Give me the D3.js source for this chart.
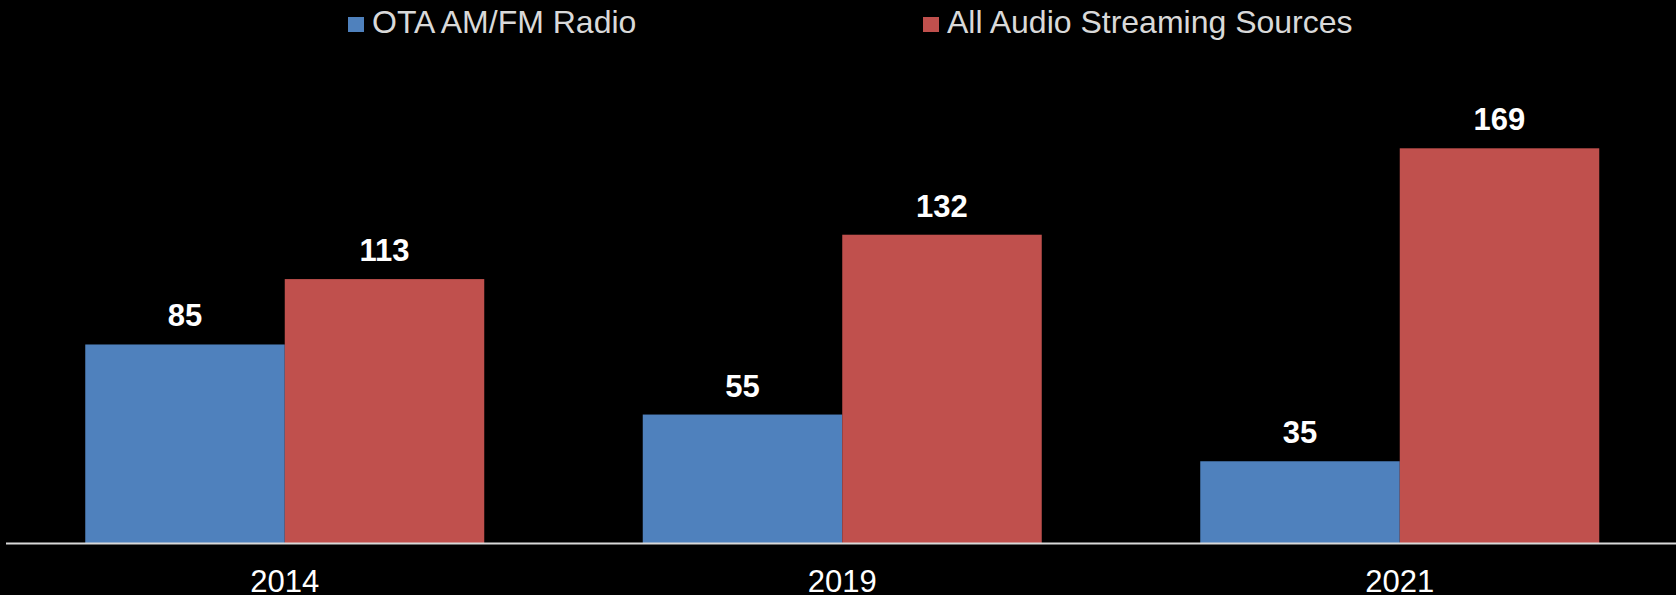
<!DOCTYPE html>
<html>
<head>
<meta charset="utf-8">
<script src="https://cdn.jsdelivr.net/npm/d3@7"></script>
<style>
  html, body { margin: 0; padding: 0; background: #000; }
  svg { display: block; font-family: "Liberation Sans", Arial, sans-serif; }
</style>
</head>
<body>
<svg id="chart"></svg>
<script>
var years = ["2014", "2019", "2021"];
var seriesNames = ["OTA AM/FM Radio", "All Audio Streaming Sources"];
var otaRadio = [85, 55, 35];
var streaming = [113, 132, 169];
var seriesColors = ["#4f81bd", "#c0504d"];

var width = 1676, height = 595;
var baseY = 543;

var svg = d3.select("#chart")
    .attr("width", width)
    .attr("height", height);

svg.append("rect")
    .attr("width", width)
    .attr("height", height)
    .attr("fill", "#000");

var rows = years.map(function(y, i){
    return {year: y, values: [otaRadio[i], streaming[i]]};
});

var x0 = d3.scaleBand()
    .domain(years)
    .range([6, 6 + 557.5 * 3])
    .paddingInner(0.2843)
    .paddingOuter(0.14215);

var x1 = d3.scaleBand()
    .domain([0, 1])
    .range([0, x0.bandwidth()]);

var y = d3.scaleLinear()
    .domain([0, 200])
    .range([baseY, baseY - 467.1]);

var groups = svg.append("g").selectAll("g")
    .data(rows)
    .enter().append("g")
    .attr("transform", function(d){ return "translate(" + x0(d.year) + ",0)"; });

var cells = groups.selectAll("g")
    .data(function(d){ return d.values.map(function(v, k){ return {k: k, v: v}; }); })
    .enter().append("g");

cells.append("rect")
    .attr("x", function(d){ return x1(d.k); })
    .attr("y", function(d){ return y(d.v); })
    .attr("width", x1.bandwidth())
    .attr("height", function(d){ return baseY - y(d.v); })
    .attr("fill", function(d){ return seriesColors[d.k]; });

cells.append("text")
    .attr("x", function(d){ return x1(d.k) + x1.bandwidth() / 2; })
    .attr("y", function(d){ return y(d.v) - 18; })
    .attr("text-anchor", "middle")
    .attr("font-size", 31)
    .attr("font-weight", "bold")
    .attr("fill", "#fff")
    .text(function(d){ return d.v; });

// x axis
var xAxis = svg.append("g")
    .attr("transform", "translate(0," + baseY + ")")
    .call(d3.axisBottom(x0).tickSize(0).tickPadding(0));
xAxis.select(".domain").remove();
xAxis.append("line")
    .attr("x1", 6).attr("x2", width)
    .attr("y1", 0.5).attr("y2", 0.5)
    .attr("stroke", "#d9d9d9")
    .attr("stroke-width", 2);
xAxis.selectAll(".tick text")
    .attr("y", 49)
    .attr("dy", null)
    .attr("font-size", 31)
    .attr("font-family", "\"Liberation Sans\", Arial, sans-serif")
    .attr("fill", "#fff");

// legend
var legendX = [348, 923];
var legend = svg.append("g").selectAll("g")
    .data(seriesNames)
    .enter().append("g")
    .attr("transform", function(d, i){ return "translate(" + legendX[i] + ",0)"; });

legend.append("rect")
    .attr("x", 0).attr("y", 17)
    .attr("width", 16).attr("height", 15)
    .attr("fill", function(d, i){ return seriesColors[i]; });

legend.append("text")
    .attr("x", 24)
    .attr("y", 33)
    .attr("font-size", 32)
    .attr("fill", "#d9d9d9")
    .text(function(d){ return d; });
</script>
</body>
</html>
